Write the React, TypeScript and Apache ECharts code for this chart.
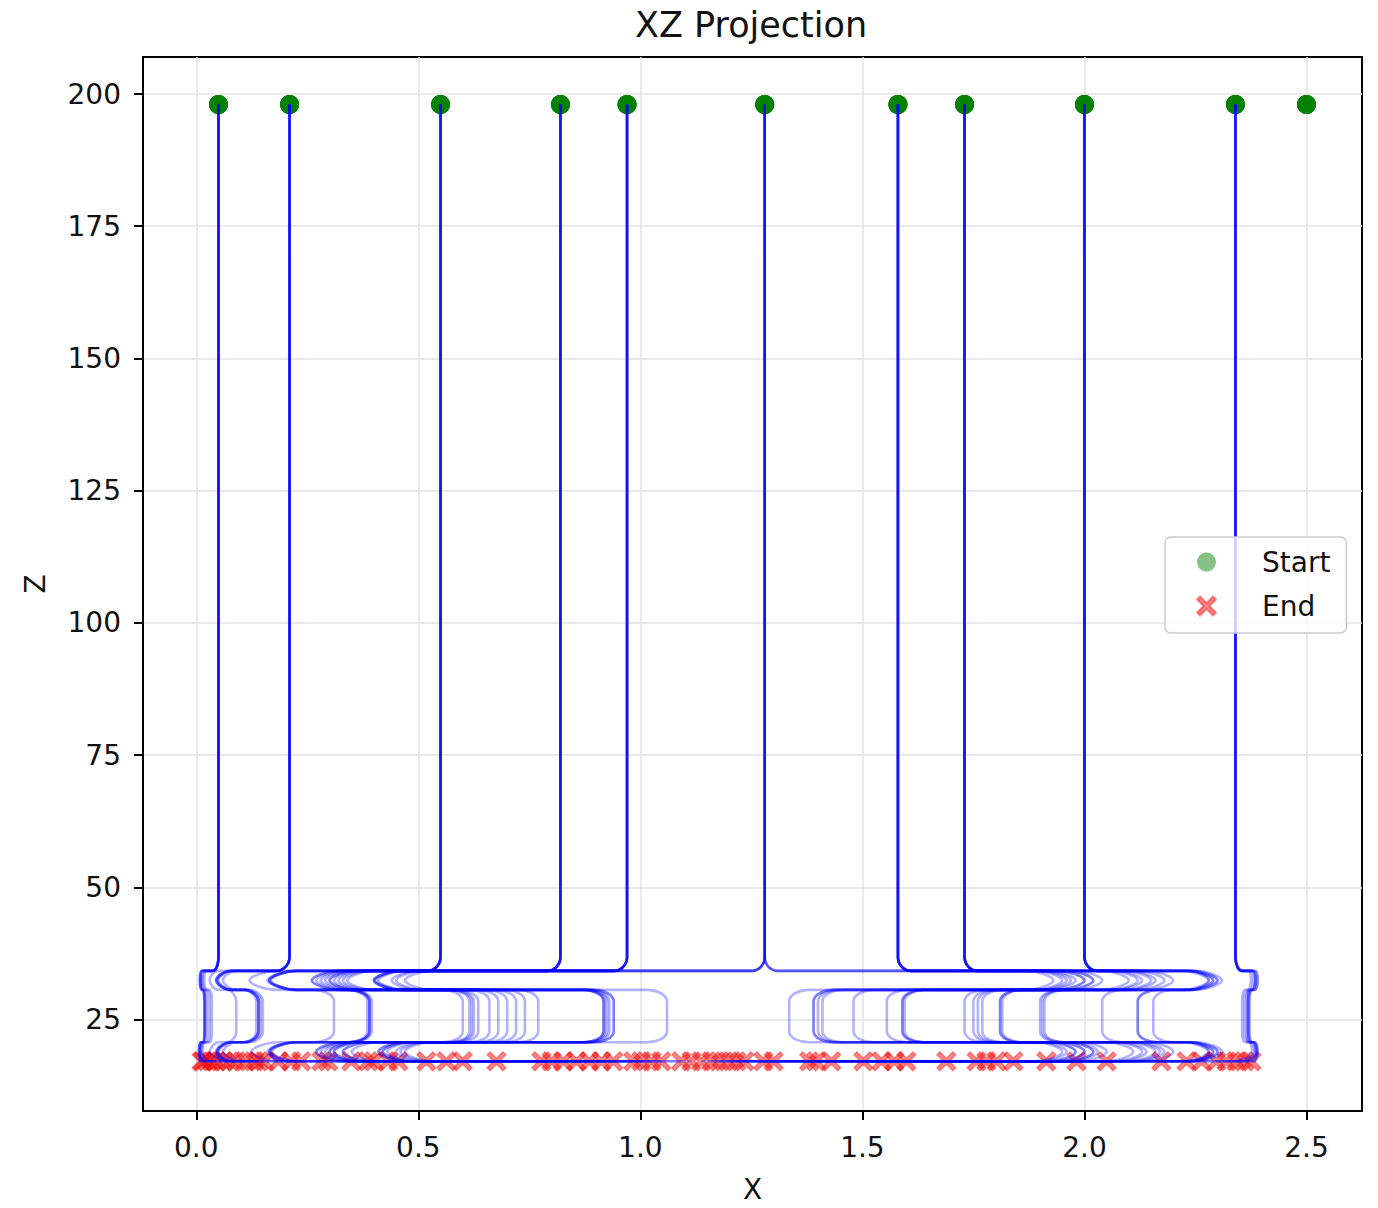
import React, { useEffect, useRef } from "react";
import * as echarts from "echarts";

// ---- data ----
const startGroups = [0.05, 0.21, 0.55, 0.82, 0.97, 1.28, 1.58, 1.73, 2.0, 2.34];
const idleStarts = [2.5, 2.5, 2.5, 2.5, 2.5, 2.5, 2.5];
const startZ = 198;
const endZ = 17.1;

// per trajectory (7 per start group): upper turning tip, vertical run, lower turning tip, end
const tipTopX = [
  0.008, 0.01, 0.008, 0.012, 0.009, 0.014, 0.018,
  0.045, 0.045, 0.048, 0.045, 0.05, 0.03, 0.06,
  0.164, 0.164, 0.16, 0.168, 0.12, 0.165, 0.26,
  0.26, 0.28, 0.3, 0.31, 0.33, 0.27, 0.29,
  0.4, 0.4, 0.405, 0.41, 0.4, 0.44, 0.47,
  0.3, 0.32, 0.34, 0.45, 2.0, 2.02, 1.97,
  1.93, 1.95, 1.96, 1.98, 2.0, 2.02, 2.04,
  2.1, 2.12, 2.15, 2.18, 2.2, 2.16, 2.13,
  2.28, 2.29, 2.3, 2.31, 2.29, 2.3, 2.28,
  2.385, 2.39, 2.385, 2.38, 2.39, 2.385, 2.375,
];
const verticalX = [
  0.018, 0.019, 0.02, 0.024, 0.018, 0.03, 0.035,
  0.14, 0.14, 0.145, 0.14, 0.135, 0.09, 0.15,
  0.39, 0.39, 0.385, 0.395, 0.31, 0.39, 0.6,
  0.615, 0.635, 0.66, 0.7, 0.74, 0.77, 0.62,
  0.917, 0.917, 0.92, 0.93, 0.94, 0.925, 1.06,
  0.625, 0.68, 0.72, 0.94, 1.335, 1.39, 1.4,
  1.39, 1.41, 1.48, 1.555, 1.59, 1.59, 1.595,
  1.73, 1.75, 1.77, 1.81, 1.81, 1.815, 1.76,
  1.9, 1.905, 1.91, 2.04, 2.12, 2.12, 2.155,
  2.368, 2.37, 2.368, 2.365, 2.372, 2.36, 2.355,
];
const tipLowX = [
  0.006, 0.008, 0.006, 0.009, 0.007, 0.011, 0.014,
  0.045, 0.048, 0.045, 0.05, 0.048, 0.03, 0.06,
  0.164, 0.166, 0.16, 0.17, 0.124, 0.165, 0.27,
  0.27, 0.29, 0.3, 0.31, 0.33, 0.28, 0.3,
  0.41, 0.42, 0.41, 0.43, 0.42, 0.45, 0.47,
  0.31, 0.33, 0.35, 0.46, 2.0, 2.02, 1.98,
  1.95, 1.96, 1.98, 2.0, 2.02, 2.03, 2.05,
  2.11, 2.13, 2.16, 2.18, 2.2, 2.17, 2.14,
  2.28, 2.29, 2.3, 2.31, 2.29, 2.3, 2.28,
  2.388, 2.39, 2.387, 2.385, 2.39, 2.383, 2.378,
];
const endX = [
  0.012, 0.015, 0.025, 0.035, 0.045, 0.06, 0.075,
  0.09, 0.11, 0.13, 0.14, 0.153, 0.185, 0.214,
  0.236, 0.282, 0.297, 0.349, 0.387, 0.4, 0.432,
  0.455, 0.518, 0.563, 0.6, 0.676, 0.777, 0.8,
  0.826, 0.856, 0.885, 0.912, 0.939, 0.984, 1.002,
  1.025, 1.047, 1.092, 1.115, 1.137, 1.16, 1.178,
  1.198, 1.216, 1.234, 1.277, 1.3, 1.38, 1.396,
  1.43, 1.502, 1.543, 1.572, 1.599, 1.689, 1.757,
  1.779, 1.802, 1.84, 1.914, 1.982, 2.05, 2.173,
  2.376, 2.36, 2.342, 2.32, 2.297, 2.264, 2.23,
];

// z-levels of the trajectory bends
const turnZ = 36.8;
const bandTopZ = 34.2;
const tipTopZ = 32.4;
const bandReturnZ = 30.6;
const vertTopZ = 28.4;
const vertBotZ = 22.8;
const bandLowZ = 20.7;
const tipLowZ = 18.9;

const xTicks = [0, 0.5, 1, 1.5, 2, 2.5];
const zTicks = [25, 50, 75, 100, 125, 150, 175, 200];

const startX = startGroups.flatMap((x) => [x, x, x, x, x, x, x]);

const FONT = "DejaVu Sans";
const CROSS =
  "path://M0,1.6 L1.6,0 L5,3.4 L8.4,0 L10,1.6 L6.6,5 L10,8.4 L8.4,10 L5,6.6 L1.6,10 L0,8.4 L3.4,5 Z";

function trajectory(i: number): number[][] {
  const x0 = startX[i];
  const a = tipTopX[i];
  const v = verticalX[i];
  const b = tipLowX[i];
  const e = endX[i];
  const d = a < x0 ? -1 : 1;
  const s = -d;
  const k1 = Math.min(0.03, Math.abs(x0 - a) / 3);
  const k2 = Math.min(0.06, Math.abs(v - a) / 3, Math.abs(x0 - a) / 3);
  const k3 = Math.min(0.045, Math.abs(v - a) / 3);
  const k4 = Math.min(0.06, Math.abs(v - b) / 3);
  const k5 = Math.min(0.06, Math.abs(e - b) / 3);
  return [
    [x0, startZ],
    [x0, turnZ],
    [x0 + d * k1, bandTopZ],
    [a + s * k2, bandTopZ],
    [a, tipTopZ],
    [a + s * k2, bandReturnZ],
    [v + d * k3, bandReturnZ],
    [v, vertTopZ],
    [v, vertBotZ],
    [v + d * k3, bandLowZ],
    [b + s * k4, bandLowZ],
    [b, tipLowZ],
    [b + s * k5, endZ],
    [e, endZ],
  ];
}

export default function App() {
  const ref = useRef<HTMLDivElement>(null);
  useEffect(() => {
    if (!ref.current) return;
    const chart = echarts.init(ref.current, undefined, { renderer: "svg" });
    const lines = startX.map((_, i) => ({
      type: "line",
      name: "traj" + i,
      data: trajectory(i),
      smooth: 0.4,
      symbol: "none",
      silent: true,
      z: 3,
      lineStyle: { color: "#0000ff", width: 2.6, opacity: 0.3 },
    }));
    const option: any = {
      animation: false,
      backgroundColor: "#ffffff",
      title: {
        text: "XZ Projection",
        left: 635,
        top: 7,
        padding: 0,
        textStyle: { fontSize: 35, fontWeight: "normal", fontFamily: FONT, color: "#111" },
      },
      grid: {
        left: 143,
        right: 16,
        top: 57,
        bottom: 93,
        show: true,
        borderColor: "#000",
        borderWidth: 2,
        backgroundColor: "transparent",
      },
      legend: {
        data: [
          { name: "Start", icon: "circle" },
          { name: "End", icon: CROSS },
        ],
        orient: "vertical",
        left: 1165,
        top: 537,
        itemWidth: 19,
        itemHeight: 19,
        itemGap: 14,
        padding: [10, 16, 12, 31],
        backgroundColor: "rgba(255,255,255,0.8)",
        borderColor: "#cccccc",
        borderWidth: 1.5,
        borderRadius: 6,
        selectedMode: false,
        textStyle: {
          fontSize: 28,
          fontFamily: FONT,
          color: "#111",
          lineHeight: 30,
          padding: [0, 0, 0, 41],
        },
      },
      xAxis: {
        type: "value",
        min: -0.12,
        max: 2.625,
        minInterval: 0.5,
        maxInterval: 0.5,
        name: "X",
        nameLocation: "middle",
        nameGap: 64,
        nameTextStyle: { fontSize: 28, fontFamily: FONT, color: "#111" },
        axisLine: { show: true, onZero: false, lineStyle: { color: "#000", width: 2 } },
        axisTick: { show: true, length: 9, lineStyle: { color: "#000", width: 2 }, customValues: xTicks },
        axisLabel: {
          color: "#111",
          fontSize: 28,
          fontFamily: FONT,
          margin: 22,
          customValues: xTicks,
          formatter: (v: number) => v.toFixed(1),
        },
        splitLine: { show: true, lineStyle: { color: "#e3e3e3", width: 1.5 } },
      },
      yAxis: {
        type: "value",
        min: 7.7,
        max: 207,
        minInterval: 25,
        maxInterval: 25,
        name: "Z",
        nameLocation: "middle",
        nameGap: 94,
        nameTextStyle: { fontSize: 28, fontFamily: FONT, color: "#111" },
        axisLine: { show: true, onZero: false, lineStyle: { color: "#000", width: 2 } },
        axisTick: { show: true, length: 9, lineStyle: { color: "#000", width: 2 }, customValues: zTicks },
        axisLabel: {
          color: "#111",
          fontSize: 28,
          fontFamily: FONT,
          margin: 22,
          customValues: zTicks,
        },
        splitLine: { show: true, lineStyle: { color: "#e3e3e3", width: 1.5 } },
      },
      series: [
        {
          type: "scatter",
          name: "Start",
          data: [...startX, ...idleStarts].map((x) => [x, startZ]),
          symbol: "circle",
          symbolSize: 19,
          z: 2,
          silent: true,
          itemStyle: { color: "rgba(0,128,0,0.6)" },
        },
        {
          type: "scatter",
          name: "End",
          data: endX.map((x) => [x, endZ]),
          symbol: CROSS,
          symbolSize: 19,
          z: 2,
          silent: true,
          itemStyle: { color: "rgba(255,0,0,0.6)", borderColor: "rgba(240,0,0,0.5)", borderWidth: 1.2 },
        },
        ...lines,
      ],
    };
    chart.setOption(option);
    return () => chart.dispose();
  }, []);
  return (
    <div
      ref={ref}
      style={{ position: "absolute", left: 0, top: 0, width: 1378, height: 1208, background: "#fff" }}
    />
  );
}
